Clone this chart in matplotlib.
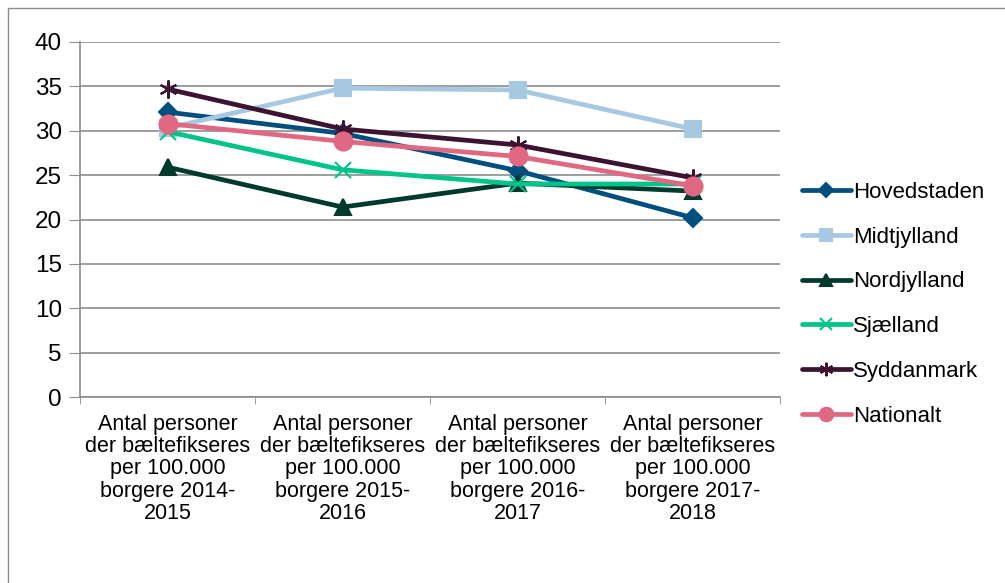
import numpy as np
import matplotlib
matplotlib.use("Agg")
from matplotlib import pyplot as plt
from matplotlib.patches import Rectangle

plt.rcParams['font.family'] = ['Liberation Sans', 'DejaVu Sans']

categories = ["Antal personer\nder bæltefikseres\nper 100.000\nborgere 2014-\n2015",
              "Antal personer\nder bæltefikseres\nper 100.000\nborgere 2015-\n2016",
              "Antal personer\nder bæltefikseres\nper 100.000\nborgere 2016-\n2017",
              "Antal personer\nder bæltefikseres\nper 100.000\nborgere 2017-\n2018"]

hovedstaden = [32.1, 29.7, 25.5, 20.2]
midtjylland = [30.3, 34.8, 34.6, 30.2]
nordjylland = [25.9, 21.4, 24.1, 23.2]
sjaelland = [29.9, 25.6, 24.0, 24.0]
syddanmark = [34.7, 30.2, 28.4, 24.7]
nationalt = [30.8, 28.8, 27.1, 23.8]

series = [
    ("Hovedstaden", hovedstaden, '#004F7C', 'D', 9),
    ("Midtjylland", midtjylland, '#A6C8E0', 's', 11),
    ("Nordjylland", nordjylland, '#003A2C', '^', 11),
    ("Sjælland", sjaelland, '#00C48A', 'x', 11),
    ("Syddanmark", syddanmark, '#3C1432', (6, 2, 0), 13),
    ("Nationalt", nationalt, '#E06882', 'o', 13),
]

fig = plt.figure(figsize=(10.05, 5.83), dpi=100)
fig.patches.append(Rectangle((8 / 1005, -0.1), 1.2, 1.1 - 8 / 583,
                             transform=fig.transFigure, fill=False,
                             edgecolor='#8c8c8c', lw=1))
ax = fig.add_axes([80 / 1005, (583 - 397) / 583, 700 / 1005, 355 / 583])

x = np.arange(len(categories))
for name, vals, col, mk, ms in series:
    ax.plot(x, vals, color=col, lw=3.4, marker=mk, ms=ms, mew=1.5,
            mec=col, mfc=col, label=name, solid_capstyle='round')

ax.set_xlim(-0.5, 3.5)
ax.set_ylim(0, 40)
ax.set_yticks(range(0, 41, 5))
ax.yaxis.grid(True, color='#8c8c8c', lw=1.2)
ax.set_axisbelow(True)
ax.set_xticks(x)
ax.set_xticklabels(categories, fontsize=15.5, linespacing=1.08)
ax.set_xticks(np.arange(-0.5, 4, 1), minor=True)
ax.tick_params(axis='x', which='major', length=0, pad=12)
ax.tick_params(axis='x', which='minor', length=5, color='#8c8c8c')
ax.tick_params(axis='y', length=8, color='#8c8c8c', labelsize=17.5, pad=5)
for s in ['top', 'right']:
    ax.spines[s].set_visible(False)
for s in ['left', 'bottom']:
    ax.spines[s].set_color('#8c8c8c')
    ax.spines[s].set_linewidth(1.2)

ax.legend(loc='center left', bbox_to_anchor=(802 / 1005, 0.478),
          bbox_transform=fig.transFigure, frameon=False, fontsize=16,
          handlelength=2.2, handletextpad=0.1, labelspacing=1.07,
          markerscale=0.75, borderpad=0, borderaxespad=0)

fig.savefig('out.png', dpi=100)
